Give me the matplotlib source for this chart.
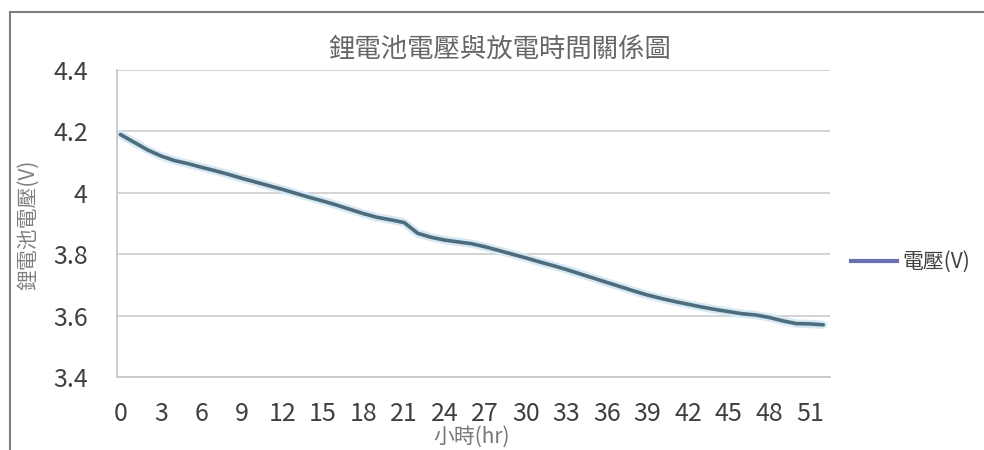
import matplotlib
matplotlib.use('Agg')
import matplotlib.pyplot as plt
from matplotlib.lines import Line2D

plt.rcParams['font.family'] = ['Noto Sans CJK TC', 'DejaVu Sans']

# hourly readings, 0..52 hr
hours = list(range(53))
voltage = [4.19, 4.165, 4.14, 4.12, 4.105, 4.095, 4.083, 4.072, 4.06, 4.047,
           4.035, 4.023, 4.011, 3.998, 3.985, 3.973, 3.96, 3.946, 3.932, 3.92,
           3.912, 3.903, 3.868, 3.855, 3.846, 3.84, 3.834, 3.824, 3.812, 3.8,
           3.788, 3.775, 3.763, 3.75, 3.736, 3.722, 3.708, 3.694, 3.68, 3.667,
           3.656, 3.646, 3.637, 3.628, 3.62, 3.613, 3.606, 3.602, 3.594, 3.583,
           3.574, 3.573, 3.57]
x_ticks = list(range(0, 52, 3))
y_ticks = [3.4, 3.6, 3.8, 4.0, 4.2, 4.4]
y_tick_labels = ['3.4', '3.6', '3.8', '4', '4.2', '4.4']

title = '鋰電池電壓與放電時間關係圖'
ylabel = '鋰電池電壓(V)'
xlabel = '小時(hr)'
series_name = '電壓(V)'

W, H = 984, 450
fig = plt.figure(figsize=(W / 100, H / 100), dpi=100)
ax = fig.add_axes([117 / W, 1 - 377 / H, (830 - 117) / W, (377 - 70) / H])

# light halo under the line, then the line itself
ax.plot(hours, voltage, color='#d6e8f3', linewidth=6, solid_capstyle='round', zorder=2)
ax.plot(hours, voltage, color='#4d6c7c', linewidth=2.6, solid_capstyle='round', zorder=3)

ax.set_xlim(-0.25, 52.5)
ax.set_ylim(3.4, 4.4)
ax.set_xticks(x_ticks)
ax.set_xticklabels([str(t) for t in x_ticks])
ax.set_yticks(y_ticks)
ax.set_yticklabels(y_tick_labels)
ax.tick_params(length=0, colors='#404040')
ax.tick_params(axis='x', pad=17, labelsize=18)
ax.tick_params(axis='y', pad=21, labelsize=18)

ax.yaxis.grid(True, color='#d0d0d0', linewidth=1.3)
ax.set_axisbelow(True)
for s in ['top', 'right']:
    ax.spines[s].set_visible(False)
ax.spines['left'].set_color('#c8c8c8')
ax.spines['left'].set_linewidth(1.3)
ax.spines['bottom'].set_color('#c8c8c8')
ax.spines['bottom'].set_linewidth(1.3)

fig.text(500 / W, 1 - 50 / H, title, ha='center', va='center', fontsize=19, color='#666666')
fig.text(28 / W, 1 - 225 / H, ylabel, ha='center', va='center', rotation=90,
         fontsize=15, color='#808080')
fig.text(472 / W, 1 - 437 / H, xlabel, ha='center', va='center', fontsize=15, color='#777777')

handle = Line2D([], [], color='#6a70b0', linewidth=3)
fig.legend([handle], [series_name], loc='center left', bbox_to_anchor=(832 / W, 1 - 262 / H),
           frameon=False, fontsize=15, handlelength=2.2, handletextpad=0.3,
           labelcolor='#404040')

# outer frame of the screenshot (top and left edges)
fig.add_artist(Line2D([10 / W, 10 / W], [0, 1 - 12 / H], color='#808080', linewidth=1.5))
fig.add_artist(Line2D([10 / W, 1], [1 - 12 / H, 1 - 12 / H], color='#808080', linewidth=1.5))

fig.savefig('out.png', dpi=100)
